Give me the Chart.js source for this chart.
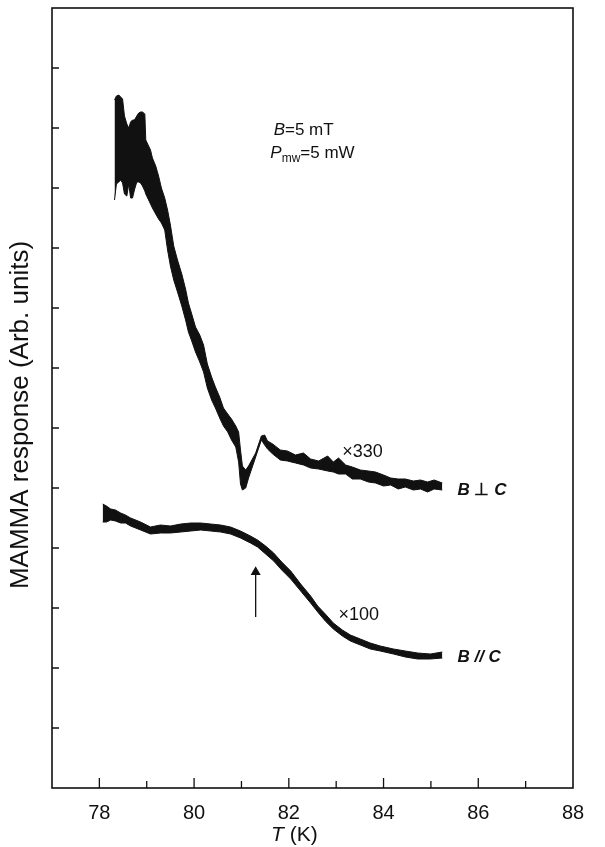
<!DOCTYPE html>
<html>
<head>
<meta charset="utf-8">
<script src="https://cdn.jsdelivr.net/npm/chart.js@4/dist/chart.umd.min.js"></script>
<style>
  html, body { margin: 0; padding: 0; background: #fff; }
  #wrap { width: 605px; height: 847px; }
</style>
</head>
<body>
<div id="wrap"><canvas id="mamma" width="605" height="847"></canvas></div>
<script>
// temperature axis (K) and arbitrary response units
const xTicks = [78, 79, 80, 81, 82, 83, 84, 85, 86, 87];
const yTicks = [60, 120, 180, 240, 300, 360, 420, 480, 540, 600, 660, 720];

// B perpendicular C trace (x330): noisy band, upper and lower edge
const perpT = [78.32, 78.36, 78.41, 78.45, 78.49, 78.53, 78.58, 78.62, 78.66, 78.70, 78.74, 78.79, 78.83, 78.87, 78.91, 78.96, 78.98, 79.04, 79.08, 79.12, 79.19, 79.25, 79.31, 79.38, 79.44, 79.50, 79.57, 79.65, 79.74, 79.82, 79.88, 79.95, 80.03, 80.12, 80.20, 80.28, 80.37, 80.45, 80.54, 80.62, 80.71, 80.79, 80.88, 80.94, 80.98, 81.02, 81.09, 81.15, 81.30, 81.42, 81.49, 81.55, 81.66, 81.82, 81.97, 82.14, 82.31, 82.46, 82.63, 82.82, 82.94, 83.05, 83.20, 83.34, 83.51, 83.68, 83.83, 84.00, 84.15, 84.31, 84.46, 84.63, 84.78, 84.93, 85.07, 85.24];
const perpTop = [688, 692, 693, 691, 689, 672, 664, 660, 666, 668, 668, 672, 675, 676, 676, 674, 648, 642, 638, 630, 622, 612, 600, 590, 578, 563, 542, 528, 514, 499, 485, 474, 461, 453, 443, 424, 411, 401, 391, 380, 374, 369, 362, 356, 338, 322, 318, 322, 335, 352, 353, 347, 344, 338, 337, 333, 335, 329, 327, 332, 326, 330, 323, 321, 318, 317, 316, 313, 310, 309, 309, 307, 308, 306, 308, 305];
const perpBot = [588, 604, 606, 608, 605, 594, 592, 604, 590, 590, 598, 606, 606, 605, 602, 597, 594, 588, 584, 580, 574, 569, 565, 558, 538, 522, 508, 496, 482, 468, 456, 447, 436, 426, 416, 400, 388, 380, 370, 362, 356, 348, 341, 326, 304, 298, 300, 310, 331, 348, 343, 339, 334, 328, 327, 325, 323, 320, 319, 317, 316, 314, 314, 309, 309, 306, 305, 302, 303, 299, 301, 298, 299, 296, 299, 298];

// B parallel C trace (x100)
const parT = [78.07, 78.15, 78.24, 78.34, 78.45, 78.55, 78.66, 78.87, 79.08, 79.29, 79.50, 79.72, 79.93, 80.14, 80.35, 80.56, 80.77, 80.98, 81.19, 81.34, 81.51, 81.68, 81.85, 82.04, 82.25, 82.46, 82.61, 82.77, 82.94, 83.13, 83.30, 83.51, 83.72, 83.93, 84.21, 84.46, 84.72, 84.99, 85.24];
const parTop = [284, 282, 279, 278, 275, 273, 270, 266, 261, 263, 262, 264, 265, 265, 264, 263, 261, 257, 252, 248, 242, 235, 226, 217, 204, 192, 182, 174, 165, 158, 153, 149, 145, 142, 139, 137, 135, 134, 136];
const parBot = [266, 266, 268, 267, 265, 265, 262, 258, 254, 255, 255, 256, 257, 258, 257, 256, 254, 250, 245, 241, 234, 227, 218, 209, 197, 185, 176, 167, 159, 152, 147, 143, 139, 137, 134, 131, 129, 129, 130];

// arrow marking the transition
const arrowT = [81.30, 81.30];
const arrowY = [171, 216];

const FONT = "'Liberation Sans', Arial, sans-serif";
const ink = '#111';

const toPts = (xs, ys) => xs.map((v, i) => ({ x: v, y: ys[i] }));

// text placed in data coordinates
const notes = [
  { x: 81.68, y: 653, runs: [{ t: 'B', f: 'italic 17px' }, { t: '=5 mT', f: '17px' }] },
  { x: 81.61, y: 630, runs: [{ t: 'P', f: 'italic 17px' }, { t: 'mw', f: '12px', dy: 4 }, { t: '=5 mW', f: '17px' }] },
  { x: 83.13, y: 331, runs: [{ t: '\u00d7330', f: '18px' }] },
  { x: 85.56, y: 293, runs: [{ t: 'B', f: 'italic bold 17px' }, { t: ' \u22a5 ', f: 'bold 17px' }, { t: 'C', f: 'italic bold 17px' }] },
  { x: 83.05, y: 168, runs: [{ t: '\u00d7100', f: '18px' }] },
  { x: 85.56, y: 126, runs: [{ t: 'B', f: 'italic bold 17px' }, { t: ' // ', f: 'italic bold 17px' }, { t: 'C', f: 'italic bold 17px' }] }
];

function drawRuns(ctx, x, y, runs) {
  let cx = x;
  runs.forEach(r => {
    ctx.font = r.f + ' ' + FONT;
    ctx.fillText(r.t, cx, y + (r.dy || 0));
    cx += ctx.measureText(r.t).width;
  });
}

// frame, inward ticks, labels
const framePlugin = {
  id: 'frame',
  afterDraw(chart) {
    const { ctx, chartArea: a, scales: { x, y } } = chart;
    ctx.save();
    ctx.strokeStyle = ink;
    ctx.fillStyle = ink;
    ctx.lineWidth = 1.6;
    ctx.strokeRect(a.left, a.top, a.right - a.left, a.bottom - a.top);

    ctx.lineWidth = 1.3;
    ctx.beginPath();
    xTicks.forEach(t => {
      const px = x.getPixelForValue(t);
      const len = t % 2 === 0 ? 10 : 7;
      ctx.moveTo(px, a.bottom);
      ctx.lineTo(px, a.bottom - len);
    });
    yTicks.forEach(v => {
      const py = y.getPixelForValue(v);
      ctx.moveTo(a.left, py);
      ctx.lineTo(a.left + 7, py);
    });
    ctx.stroke();

    ctx.textBaseline = 'alphabetic';
    ctx.textAlign = 'left';
    notes.forEach(n => drawRuns(ctx, x.getPixelForValue(n.x), y.getPixelForValue(n.y), n.runs));

    // x title: T (K)
    drawRuns(ctx, 271, 841, [{ t: 'T', f: 'italic 21px' }, { t: ' (K)', f: '21px' }]);

    // y title
    ctx.translate(28, 415);
    ctx.rotate(-Math.PI / 2);
    ctx.textAlign = 'center';
    ctx.font = '26px ' + FONT;
    ctx.fillText('MAMMA response (Arb. units)', 0, 0);
    ctx.restore();
  }
};

const band = (data, fill) => ({
  data,
  borderColor: ink,
  backgroundColor: ink,
  borderWidth: 1,
  pointRadius: 0,
  tension: 0,
  fill
});

new Chart(document.getElementById('mamma'), {
  type: 'line',
  data: {
    datasets: [
      band(toPts(perpT, perpTop), '+1'),
      band(toPts(perpT, perpBot), false),
      band(toPts(parT, parTop), '+1'),
      band(toPts(parT, parBot), false),
      {
        data: toPts(arrowT, arrowY),
        borderColor: ink,
        backgroundColor: ink,
        borderWidth: 1.3,
        pointStyle: 'triangle',
        pointRadius: [0, 4.5],
        fill: false
      }
    ]
  },
  options: {
    responsive: false,
    animation: false,
    layout: { padding: { top: 8, right: 32, left: 0, bottom: 0 } },
    plugins: { legend: { display: false }, tooltip: { enabled: false } },
    scales: {
      x: {
        type: 'linear',
        min: 77,
        max: 88,
        grid: { display: false },
        border: { display: false },
        ticks: {
          stepSize: 1,
          autoSkip: false,
          maxRotation: 0,
          padding: 5,
          color: ink,
          font: { family: FONT, size: 20 },
          callback: v => (v % 2 === 0 ? v : '')
        },
        afterFit: s => { s.height = 59; }
      },
      y: {
        min: 0,
        max: 780,
        grid: { display: false },
        border: { display: false },
        ticks: { display: false, stepSize: 60 },
        afterFit: s => { s.width = 52; }
      }
    }
  },
  plugins: [framePlugin]
});
</script>
</body>
</html>
